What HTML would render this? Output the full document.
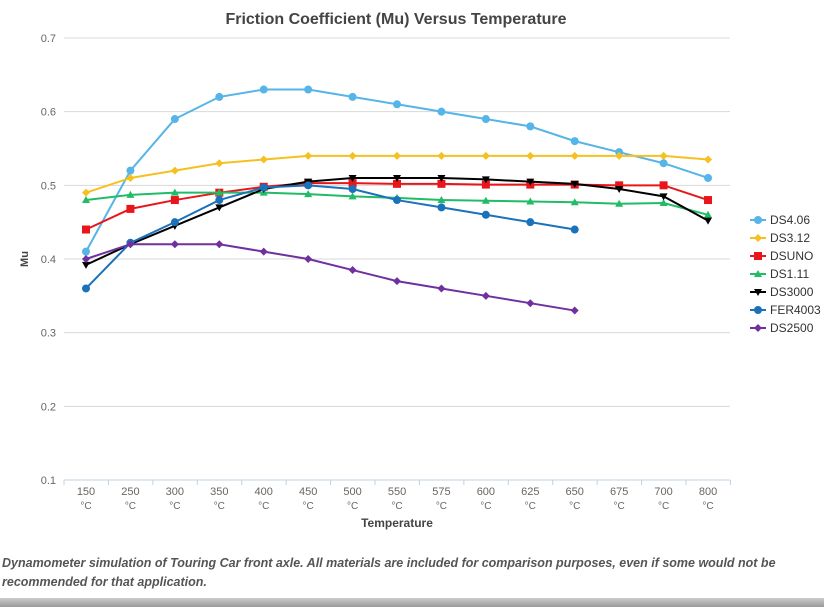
<!DOCTYPE html>
<html><head><meta charset="utf-8"><style>
body{margin:0;width:824px;height:607px;background:#fff;overflow:hidden;font-family:"Liberation Sans",sans-serif}
#cap{position:absolute;left:2px;top:554px;font-size:12.5px;font-style:italic;font-weight:bold;color:#555;line-height:19px;width:820px}
#bar{position:absolute;left:0;top:598px;width:824px;height:9px;background:linear-gradient(#ccc,#999)}
</style></head><body>
<svg id="s" width="824" height="600" style="position:absolute;left:0;top:0" font-family="Liberation Sans, sans-serif"></svg>
<div id="cap">Dynamometer simulation of Touring Car front axle. All materials are included for comparison purposes, even if some would not be recommended for that application.</div>
<div id="bar"></div>
<script>
var s=document.getElementById('s'),h='';
function Y(v){return 480-(v-0.1)*736.7}
function X(i){return 86+i*44.43}
h+='<text x="396" y="24" text-anchor="middle" font-size="16" fill="#444" font-weight="bold">Friction Coefficient (Mu) Versus Temperature</text>';
for(var k=2;k<=7;k++){var y=Y(k/10);h+='<line x1="64" x2="730" y1="'+y+'" y2="'+y+'" stroke="#d8d8d8"/>';h+='<text x="56" y="'+(y+4)+'" text-anchor="end" font-size="11" fill="#666">0.'+k+'</text>';}
h+='<text x="56" y="484" text-anchor="end" font-size="11" fill="#666">0.1</text>';
h+='<line x1="64" x2="730" y1="480" y2="480" stroke="#c0d0e0"/>';
var cats=[150,250,300,350,400,450,500,550,575,600,625,650,675,700,800];
for(var i=0;i<=15;i++){var x=64+i*44.43;h+='<line x1="'+x+'" x2="'+x+'" y1="480" y2="485" stroke="#c0d0e0"/>';}
cats.forEach(function(c,i){h+='<text x="'+X(i)+'" y="495" text-anchor="middle" font-size="11" fill="#666">'+c+'</text><text x="'+X(i)+'" y="509" text-anchor="middle" font-size="10" fill="#666">°C</text>';});
h+='<text x="397" y="527" text-anchor="middle" font-size="12" font-weight="bold" fill="#444">Temperature</text>';
h+='<text x="28" y="259" text-anchor="middle" font-size="11" font-weight="bold" fill="#444" transform="rotate(-90 28 259)">Mu</text>';
var S=[
['DS4.06','#55b4e8','c',[.41,.52,.59,.62,.63,.63,.62,.61,.60,.59,.58,.56,.545,.53,.51]],
['DS3.12','#f5c020','d',[.49,.51,.52,.53,.535,.54,.54,.54,.54,.54,.54,.54,.54,.54,.535]],
['DSUNO','#e8161b','s',[.44,.468,.48,.49,.498,.503,.503,.502,.502,.501,.501,.501,.50,.50,.48]],
['DS1.11','#22bb66','t',[.48,.487,.49,.49,.49,.488,.485,.483,.48,.479,.478,.477,.475,.476,.46]],
['DS3000','#000','v',[.392,.42,.445,.47,.495,.505,.51,.51,.51,.508,.505,.502,.495,.485,.452]],
['FER4003','#1a72bb','c',[.36,.422,.45,.48,.497,.50,.495,.48,.47,.46,.45,.44]],
['DS2500','#7030a0','d',[.40,.42,.42,.42,.41,.40,.385,.37,.36,.35,.34,.33]]];
function mk(t,x,y,c){
 if(t=='c')return '<circle cx="'+x+'" cy="'+y+'" r="4" fill="'+c+'"/>';
 if(t=='d')return '<path d="M'+x+' '+(y-4)+'L'+(x+4)+' '+y+'L'+x+' '+(y+4)+'L'+(x-4)+' '+y+'Z" fill="'+c+'"/>';
 if(t=='s')return '<rect x="'+(x-4)+'" y="'+(y-4)+'" width="8" height="8" fill="'+c+'"/>';
 if(t=='t')return '<path d="M'+x+' '+(y-4)+'L'+(x+4)+' '+(y+3)+'L'+(x-4)+' '+(y+3)+'Z" fill="'+c+'"/>';
 return '<path d="M'+x+' '+(y+4)+'L'+(x+4)+' '+(y-3)+'L'+(x-4)+' '+(y-3)+'Z" fill="'+c+'"/>';}
S.forEach(function(d,j){var p=d[3].map(function(v,i){return X(i)+','+Y(v)}).join(' ');
 h+='<polyline points="'+p+'" fill="none" stroke="'+d[1]+'" stroke-width="2"/>';
 d[3].forEach(function(v,i){h+=mk(d[2],X(i),Y(v),d[1]);});
 var ly=220+j*18;h+='<line x1="750" x2="766" y1="'+ly+'" y2="'+ly+'" stroke="'+d[1]+'" stroke-width="2"/>'+mk(d[2],758,ly,d[1])+'<text x="770" y="'+(ly+4)+'" font-size="12" fill="#333">'+d[0]+'</text>';});
s.innerHTML=h;
</script>
</body></html>
